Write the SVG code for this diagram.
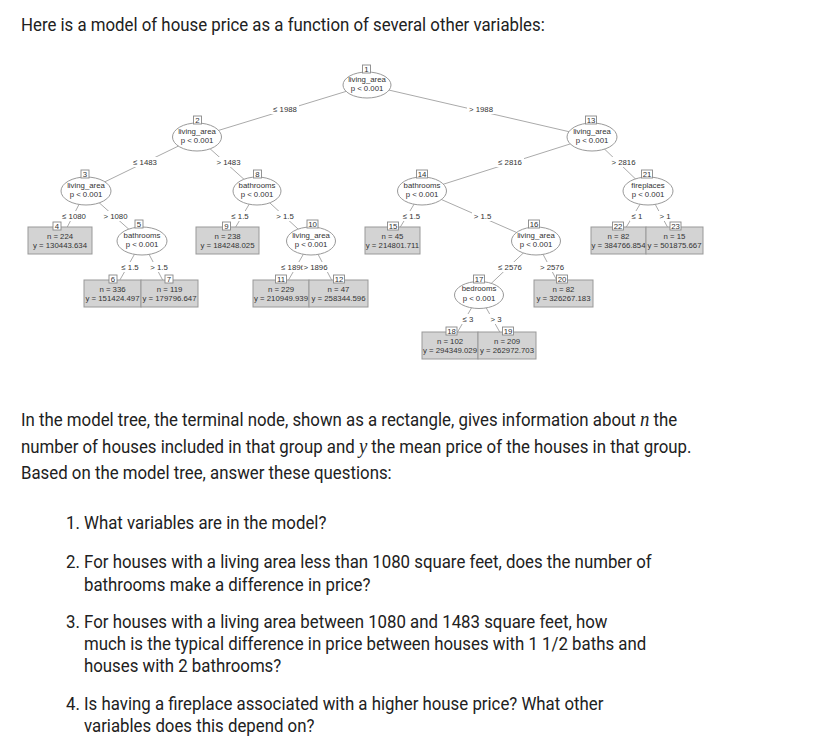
<svg xmlns="http://www.w3.org/2000/svg" width="817" height="751" viewBox="0 0 817 751">
<style>
.main{font-family:Roboto,"Noto Sans","Liberation Sans",sans-serif;font-size:18px;fill:#212121}
.mi{font-family:"Liberation Serif","DejaVu Serif",serif;font-style:italic;font-size:20px}
.t{font-family:"Liberation Sans",Arial,sans-serif;font-size:7.8px;fill:#333;text-anchor:middle}
.e{fill:#fff;stroke:#999;stroke-width:1}
.leaf{fill:#d3d3d3;stroke:#999;stroke-width:1}
.idb{fill:#fff;stroke:#888;stroke-width:0.9}
.ed{stroke:#aaa;stroke-width:1;fill:none}
.bg{fill:#fff}
</style>
<rect width="817" height="751" fill="#fff"/>
<text class="main" transform="translate(21,31) scale(0.935,1)">Here is a model of house price as a function of several other variables:</text>

<g id="connectors">
<line class="ed" x1="367" y1="85" x2="197" y2="137"/>
<line class="ed" x1="367" y1="85" x2="592" y2="137"/>
<line class="ed" x1="197" y1="137" x2="86" y2="191"/>
<line class="ed" x1="197" y1="137" x2="257" y2="191"/>
<line class="ed" x1="86" y1="191" x2="60.5" y2="240"/>
<line class="ed" x1="86" y1="191" x2="142" y2="241"/>
<line class="ed" x1="142" y1="241" x2="112.5" y2="293"/>
<line class="ed" x1="142" y1="241" x2="169.5" y2="293"/>
<line class="ed" x1="257" y1="191" x2="228" y2="240"/>
<line class="ed" x1="257" y1="191" x2="311" y2="241"/>
<line class="ed" x1="311" y1="241" x2="281" y2="293"/>
<line class="ed" x1="311" y1="241" x2="338.5" y2="293"/>
<line class="ed" x1="592" y1="137" x2="422" y2="191"/>
<line class="ed" x1="592" y1="137" x2="648" y2="191"/>
<line class="ed" x1="422" y1="191" x2="392.5" y2="240"/>
<line class="ed" x1="422" y1="191" x2="536" y2="241"/>
<line class="ed" x1="536" y1="241" x2="479" y2="295"/>
<line class="ed" x1="536" y1="241" x2="563.5" y2="293"/>
<line class="ed" x1="479" y1="295" x2="450" y2="345"/>
<line class="ed" x1="479" y1="295" x2="507" y2="345"/>
<line class="ed" x1="648" y1="191" x2="618.5" y2="240"/>
<line class="ed" x1="648" y1="191" x2="674.5" y2="240"/>
<!-- edge labels -->
<rect class="bg" x="271" y="104" width="28" height="10"/><text class="t" x="285" y="111.7">≤ 1988</text>
<rect class="bg" x="467" y="104" width="28" height="10"/><text class="t" x="481" y="111.7">&gt; 1988</text>
<rect class="bg" x="131" y="157" width="28" height="10"/><text class="t" x="145" y="164.7">≤ 1483</text>
<rect class="bg" x="214.5" y="157" width="28" height="10"/><text class="t" x="228.5" y="164.7">&gt; 1483</text>
<rect class="bg" x="60" y="211" width="28" height="10"/><text class="t" x="74" y="218.7">≤ 1080</text>
<rect class="bg" x="101.5" y="211" width="28" height="10"/><text class="t" x="115.5" y="218.7">&gt; 1080</text>
<rect class="bg" x="119.5" y="262" width="21" height="10"/><text class="t" x="130" y="269.7">≤ 1.5</text>
<rect class="bg" x="148.5" y="262" width="21" height="10"/><text class="t" x="159" y="269.7">&gt; 1.5</text>
<rect class="bg" x="229.5" y="211" width="21" height="10"/><text class="t" x="240" y="218.7">≤ 1.5</text>
<rect class="bg" x="274.5" y="211" width="21" height="10"/><text class="t" x="285" y="218.7">&gt; 1.5</text>
<rect class="bg" x="279" y="262" width="28" height="10"/><text class="t" x="293" y="269.7">≤ 1896</text>
<rect class="bg" x="302.5" y="262" width="26" height="10"/><text class="t" x="315.5" y="269.7">&gt; 1896</text>
<rect class="bg" x="496" y="157" width="28" height="10"/><text class="t" x="510" y="164.7">≤ 2816</text>
<rect class="bg" x="609.5" y="157" width="28" height="10"/><text class="t" x="623.5" y="164.7">&gt; 2816</text>
<rect class="bg" x="401" y="211" width="21" height="10"/><text class="t" x="411.5" y="218.7">≤ 1.5</text>
<rect class="bg" x="472" y="211" width="21" height="10"/><text class="t" x="482.5" y="218.7">&gt; 1.5</text>
<rect class="bg" x="496" y="262" width="28" height="10"/><text class="t" x="510" y="269.7">≤ 2576</text>
<rect class="bg" x="538" y="262" width="28" height="10"/><text class="t" x="552" y="269.7">&gt; 2576</text>
<rect class="bg" x="461" y="314" width="14" height="10"/><text class="t" x="468" y="321.7">≤ 3</text>
<rect class="bg" x="489" y="314" width="14" height="10"/><text class="t" x="496" y="321.7">&gt; 3</text>
<rect class="bg" x="630" y="211" width="14" height="10"/><text class="t" x="637" y="218.7">≤ 1</text>
<rect class="bg" x="658" y="211" width="14" height="10"/><text class="t" x="665" y="218.7">&gt; 1</text>
</g>

<!-- inner nodes -->
<g id="node1"><ellipse class="e" cx="367" cy="85" rx="24" ry="13"/><rect class="idb" x="362.5" y="65" width="8" height="8"/><text class="t" x="366.5" y="71.8">1</text><text class="t" x="367" y="82">living_area</text><text class="t" x="367" y="91">p &lt; 0.001</text></g>
<g id="node2"><ellipse class="e" cx="197" cy="137" rx="24.5" ry="14"/><rect class="idb" x="193.5" y="116" width="8" height="8"/><text class="t" x="197.5" y="122.8">2</text><text class="t" x="197" y="134">living_area</text><text class="t" x="197" y="143">p &lt; 0.001</text></g>
<g id="node3"><ellipse class="e" cx="86" cy="191" rx="25" ry="14"/><rect class="idb" x="81" y="170" width="8" height="8"/><text class="t" x="85" y="176.8">3</text><text class="t" x="86" y="188">living_area</text><text class="t" x="86" y="197">p &lt; 0.001</text></g>
<g id="node5"><ellipse class="e" cx="142" cy="241" rx="25" ry="14"/><rect class="idb" x="135" y="220" width="8" height="8"/><text class="t" x="139" y="226.8">5</text><text class="t" x="142" y="238">bathrooms</text><text class="t" x="142" y="247">p &lt; 0.001</text></g>
<g id="node8"><ellipse class="e" cx="257" cy="191" rx="24" ry="14"/><rect class="idb" x="253.5" y="170" width="8" height="8"/><text class="t" x="257.5" y="176.8">8</text><text class="t" x="257" y="188">bathrooms</text><text class="t" x="257" y="197">p &lt; 0.001</text></g>
<g id="node10"><ellipse class="e" cx="311" cy="241" rx="24.5" ry="14"/><rect class="idb" x="307" y="220" width="11" height="8"/><text class="t" x="312.5" y="226.8">10</text><text class="t" x="311" y="238">living_area</text><text class="t" x="311" y="247">p &lt; 0.001</text></g>
<g id="node13"><ellipse class="e" cx="592" cy="137" rx="25" ry="14"/><rect class="idb" x="585.5" y="116" width="11" height="8"/><text class="t" x="591" y="122.8">13</text><text class="t" x="592" y="134">living_area</text><text class="t" x="592" y="143">p &lt; 0.001</text></g>
<g id="node14"><ellipse class="e" cx="422" cy="191" rx="24.5" ry="14"/><rect class="idb" x="416.5" y="170" width="11" height="8"/><text class="t" x="422" y="176.8">14</text><text class="t" x="422" y="188">bathrooms</text><text class="t" x="422" y="197">p &lt; 0.001</text></g>
<g id="node16"><ellipse class="e" cx="536" cy="241" rx="24.5" ry="14"/><rect class="idb" x="528.5" y="220" width="11" height="8"/><text class="t" x="534" y="226.8">16</text><text class="t" x="536" y="238">living_area</text><text class="t" x="536" y="247">p &lt; 0.001</text></g>
<g id="node17"><ellipse class="e" cx="479" cy="295" rx="24.5" ry="13.5"/><rect class="idb" x="473.5" y="275" width="11" height="8"/><text class="t" x="479" y="281.8">17</text><text class="t" x="479" y="291">bedrooms</text><text class="t" x="479" y="300.5">p &lt; 0.001</text></g>
<g id="node21"><ellipse class="e" cx="648" cy="191" rx="25" ry="14"/><rect class="idb" x="641.5" y="170" width="11" height="8"/><text class="t" x="647" y="176.8">21</text><text class="t" x="648" y="188">fireplaces</text><text class="t" x="648" y="197">p &lt; 0.001</text></g>

<!-- leaves -->
<g id="node4"><rect class="leaf" x="28" y="227" width="64" height="27"/><rect class="idb" x="53" y="222" width="8" height="8"/><text class="t" x="57" y="228.8">4</text><text class="t" x="60" y="238.5">n = 224</text><text class="t" x="60" y="247.5">y = 130443.634</text></g>
<g id="node6"><rect class="leaf" x="84" y="280" width="57" height="27"/><rect class="idb" x="109" y="275" width="8" height="8"/><text class="t" x="113" y="281.8">6</text><text class="t" x="112.5" y="291.5">n = 336</text><text class="t" x="112.5" y="300.5">y = 151424.497</text></g>
<g id="node7"><rect class="leaf" x="141" y="280" width="57" height="27"/><rect class="idb" x="165" y="275" width="8" height="8"/><text class="t" x="169" y="281.8">7</text><text class="t" x="169.5" y="291.5">n = 119</text><text class="t" x="169.5" y="300.5">y = 179796.647</text></g>
<g id="node9"><rect class="leaf" x="196" y="227" width="63" height="27"/><rect class="idb" x="222.5" y="222" width="8" height="8"/><text class="t" x="226.5" y="228.8">9</text><text class="t" x="227.5" y="238.5">n = 238</text><text class="t" x="227.5" y="247.5">y = 184248.025</text></g>
<g id="node11"><rect class="leaf" x="253" y="280" width="56" height="27"/><rect class="idb" x="275.5" y="275" width="11" height="8"/><text class="t" x="281" y="281.8">11</text><text class="t" x="281" y="291.5">n = 229</text><text class="t" x="281" y="300.5">y = 210949.939</text></g>
<g id="node12"><rect class="leaf" x="309" y="280" width="59" height="27"/><rect class="idb" x="333.5" y="275" width="11" height="8"/><text class="t" x="339" y="281.8">12</text><text class="t" x="338.5" y="291.5">n = 47</text><text class="t" x="338.5" y="300.5">y = 258344.596</text></g>
<g id="node15"><rect class="leaf" x="365" y="227" width="55" height="27"/><rect class="idb" x="387.5" y="222" width="11" height="8"/><text class="t" x="393" y="228.8">15</text><text class="t" x="392.5" y="238.5">n = 45</text><text class="t" x="392.5" y="247.5">y = 214801.711</text></g>
<g id="node18"><rect class="leaf" x="422" y="332" width="56" height="27"/><rect class="idb" x="446" y="327" width="11" height="8"/><text class="t" x="451.5" y="333.8">18</text><text class="t" x="450" y="343.5">n = 102</text><text class="t" x="450" y="352.5">y = 294349.029</text></g>
<g id="node19"><rect class="leaf" x="478" y="332" width="58" height="27"/><rect class="idb" x="502.5" y="327" width="11" height="8"/><text class="t" x="508" y="333.8">19</text><text class="t" x="507" y="343.5">n = 209</text><text class="t" x="507" y="352.5">y = 262972.703</text></g>
<g id="node20"><rect class="leaf" x="534" y="280" width="59" height="27"/><rect class="idb" x="556.5" y="275" width="11" height="8"/><text class="t" x="562" y="281.8">20</text><text class="t" x="563.5" y="291.5">n = 82</text><text class="t" x="563.5" y="300.5">y = 326267.183</text></g>
<g id="node22"><rect class="leaf" x="591" y="227" width="55" height="27"/><rect class="idb" x="612.5" y="222" width="11" height="8"/><text class="t" x="618" y="228.8">22</text><text class="t" x="618.5" y="238.5">n = 82</text><text class="t" x="618.5" y="247.5">y = 384766.854</text></g>
<g id="node23"><rect class="leaf" x="646" y="227" width="57" height="27"/><rect class="idb" x="670" y="222" width="11" height="8"/><text class="t" x="675.5" y="228.8">23</text><text class="t" x="674.5" y="238.5">n = 15</text><text class="t" x="674.5" y="247.5">y = 501875.667</text></g>

<text class="main" transform="translate(21,426) scale(0.935,1)">In the model tree, the terminal node, shown as a rectangle, gives information about <tspan class="mi">n</tspan> the</text>
<text class="main" transform="translate(21,452.5) scale(0.935,1)">number of houses included in that group and <tspan class="mi">y</tspan> the mean price of the houses in that group.</text>
<text class="main" transform="translate(21,479) scale(0.935,1)">Based on the model tree, answer these questions:</text>

<text class="main" transform="translate(66,529) scale(0.935,1)">1. What variables are in the model?</text>
<text class="main" transform="translate(66,568) scale(0.935,1)">2. For houses with a living area less than 1080 square feet, does the number of</text>
<text class="main" transform="translate(84,591) scale(0.935,1)">bathrooms make a difference in price?</text>
<text class="main" transform="translate(66,628) scale(0.935,1)">3. For houses with a living area between 1080 and 1483 square feet, how</text>
<text class="main" transform="translate(84,650) scale(0.935,1)">much is the typical difference in price between houses with 1 1/2 baths and</text>
<text class="main" transform="translate(84,672) scale(0.935,1)">houses with 2 bathrooms?</text>
<text class="main" transform="translate(66,710) scale(0.935,1)">4. Is having a fireplace associated with a higher house price? What other</text>
<text class="main" transform="translate(84,732) scale(0.935,1)">variables does this depend on?</text>
</svg>
